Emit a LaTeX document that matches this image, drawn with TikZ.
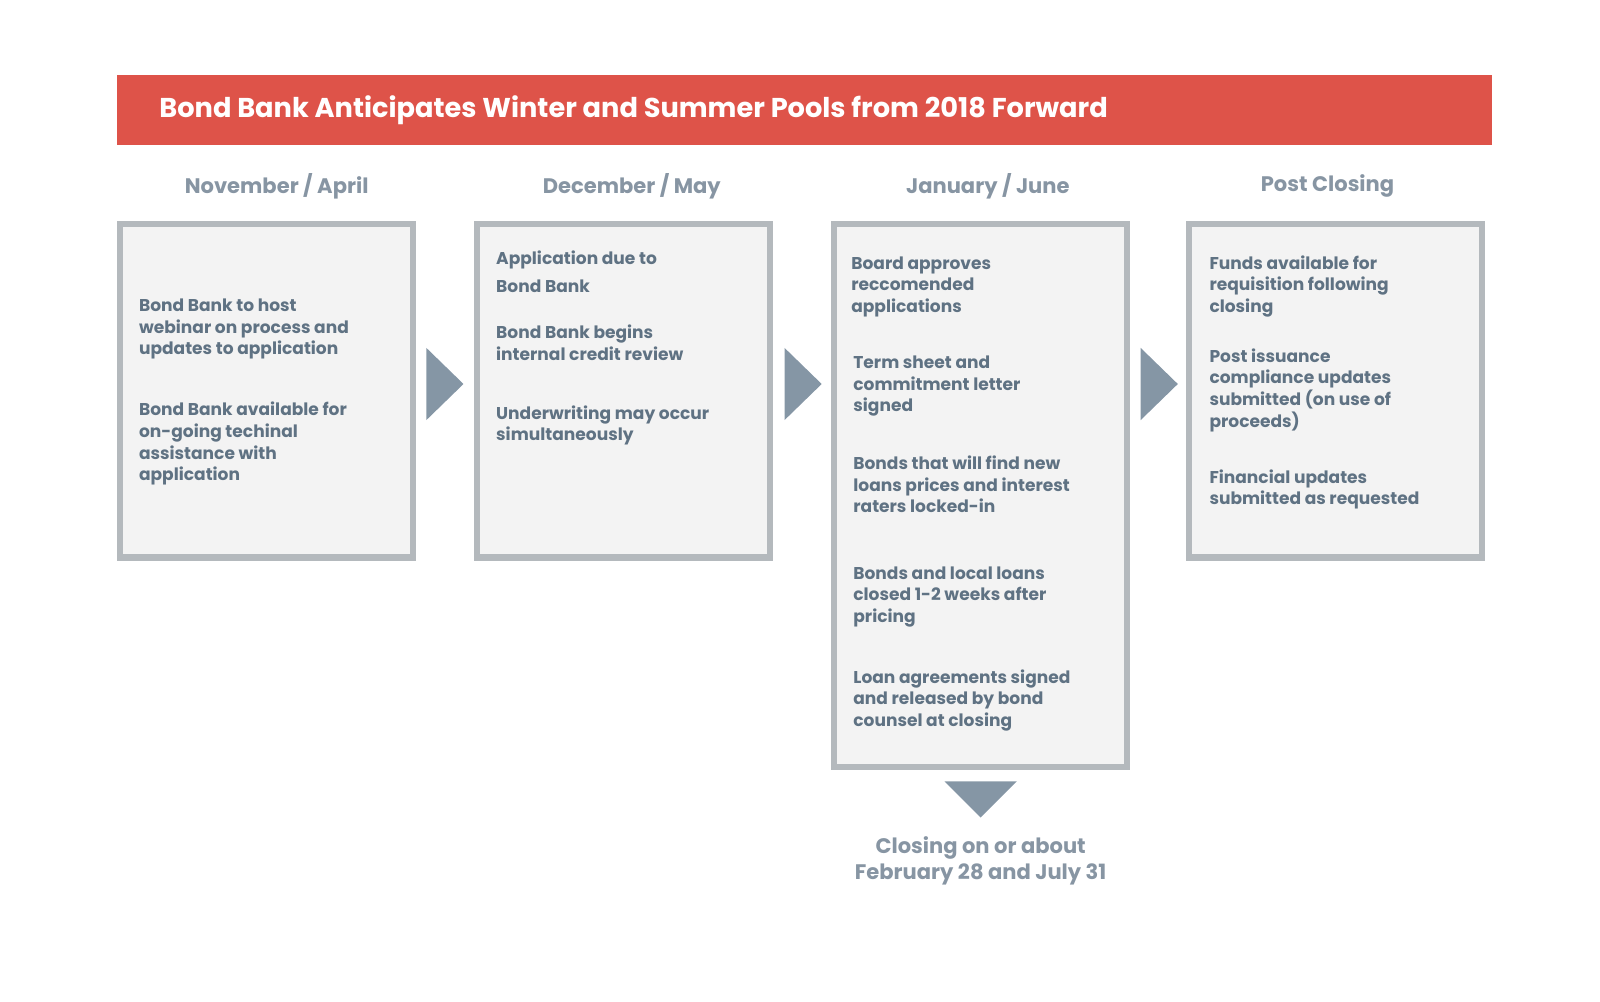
\documentclass[tikz,border=0pt]{standalone}
\usepackage{fontspec}
\setmainfont{Poppins}
\usetikzlibrary{positioning}

\definecolor{titlered}{RGB}{222,83,73}
\definecolor{boxgray}{RGB}{180,185,189}
\definecolor{boxfill}{RGB}{243,243,243}
\definecolor{arrowgray}{RGB}{133,150,165}
\definecolor{headgray}{RGB}{135,149,163}
\definecolor{textgray}{RGB}{95,114,131}

\begin{document}
\begin{tikzpicture}[x=0.01cm,y=-0.01cm,
	stage box/.style={draw=boxgray,fill=boxfill,line width=1.7pt},
	head text/.style={font=\fontsize{5.8}{7.5}\selectfont\bfseries,text=headgray},
	body text/.style={anchor=north west,inner sep=0pt,align=left,
		font=\fontsize{4.7}{5.95}\selectfont\bfseries,text=textgray},
	step arrow/.style={fill=arrowgray}]

	\useasboundingbox (0,0) rectangle (1550,970);

	\fill[titlered] (113,73) rectangle (1445,140);
	\node[anchor=west,text=white,font=\fontsize{7.5}{9}\selectfont\bfseries] (title) at (142,107)
		{Bond Bank Anticipates Winter and Summer Pools from 2018 Forward};

	% stage boxes
	\draw[stage box] (116,217) rectangle (400,540);
	\draw[stage box] (462,217) rectangle (746,540);
	\draw[stage box] (808,217) rectangle (1092,743);
	\draw[stage box] (1152,217) rectangle (1436,540);

	\node[head text] (h1) at (268,180) {November / April};
	\node[head text] (h2) at (612,180) {December / May};
	\node[head text] (h3) at (957,180) {January / June};
	\node[head text] (h4) at (1286,180) {Post Closing};

	% arrows
	\foreach \x in {413,760,1105}
		\fill[step arrow] (\x,337) -- (\x+36,372) -- (\x,407) -- cycle;
	\fill[step arrow] (915,757) -- (985,757) -- (950,792) -- cycle;

	% box 1
	\node[body text] (a1) at (134,289) {Bond Bank to host\\webinar on process and\\updates to application};
	\node[body text] (a2) at (134,389) {Bond Bank available for\\on-going techinal\\assistance with\\application};
	% box 2
	\node[body text] (b1) at (480,242) {Application due to};
	\node[body text] (b2) at (480,270) {Bond Bank};
	\node[body text] (b3) at (480,314) {Bond Bank begins\\internal credit review};
	\node[body text] (b4) at (480,392) {Underwriting may occur\\simultaneously};
	% box 3
	\node[body text] (c1) at (824,248) {Board approves\\reccomended\\applications};
	\node[body text] (c2) at (826,344) {Term sheet and\\commitment letter\\signed};
	\node[body text] (c3) at (826,441) {Bonds that will find new\\loans prices and interest\\raters locked-in};
	\node[body text] (c4) at (826,548) {Bonds and local loans\\closed 1-2 weeks after\\pricing};
	\node[body text] (c5) at (826,648) {Loan agreements signed\\and released by bond\\counsel at closing};
	% box 4
	\node[body text] (d1) at (1171,247) {Funds available for\\requisition following\\closing};
	\node[body text] (d2) at (1171,337) {Post issuance\\compliance updates\\submitted (on use of\\proceeds)};
	\node[body text] (d3) at (1171,454) {Financial updates\\submitted as requested};

	\node[head text,align=center,font=\fontsize{5.8}{7.1}\selectfont\bfseries] (close) at (950,834)
		{Closing on or about\\February 28 and July 31};
\end{tikzpicture}
\end{document}
